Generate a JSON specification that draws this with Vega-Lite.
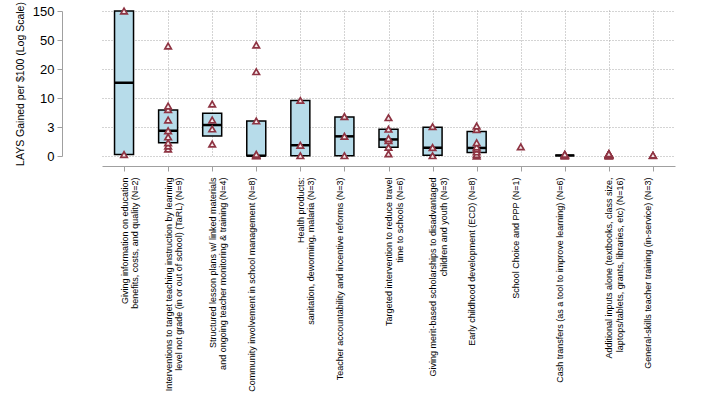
{
  "$schema": "https://vega.github.io/schema/vega-lite/v6.json",
  "width": 654,
  "height": 166,
  "autosize": {"type": "none"},
  "padding": {"left": 62, "top": 0, "right": 0, "bottom": 234},
  "background": "white",
  "config": {
    "view": {"stroke": null},
    "font": "Liberation Sans",
    "axis": {"domainColor": "#a0a0a0", "tickColor": "#a0a0a0", "gridColor": "#a8a8a8", "gridDash": [1, 2], "gridWidth": 1, "gridOpacity": 1, "labelColor": "black", "titleColor": "black"}
  },
  "datasets": {
    "boxes": [
      {"group": "Giving information on education|benefits, costs, and quality (N=2)", "q1": 1.05, "median": 12.5, "q3": 148.4},
      {"group": "Interventions to target teaching instruction by learning|level not grade (in or out of school) (TaRL) (N=9)", "q1": 1.58, "median": 2.39, "q3": 4.88},
      {"group": "Structured lesson plans w/ linked materials|and ongoing teacher monitoring & training (N=4)", "q1": 1.99, "median": 2.91, "q3": 4.36},
      {"group": "Community involvement in school management (N=8)", "q1": 1.01, "median": 1.01, "q3": 3.34},
      {"group": "Health products:|sanitation, deworming, malaria (N=3)", "q1": 1.01, "median": 1.45, "q3": 6.75},
      {"group": "Teacher accountability and incentive reforms (N=3)", "q1": 1.01, "median": 1.97, "q3": 3.85},
      {"group": "Targeted intervention to reduce travel|time to schools (N=6)", "q1": 1.35, "median": 1.77, "q3": 2.52},
      {"group": "Giving merit-based scholarships to disadvantaged|children and youth (N=3)", "q1": 1.03, "median": 1.33, "q3": 2.7},
      {"group": "Early childhood development (ECD) (N=8)", "q1": 1.13, "median": 1.32, "q3": 2.33},
      {"group": "Cash transfers (as a tool to improve learning) (N=6)", "q1": 1.02, "median": 1.02, "q3": 1.02}
    ],
    "points": [
      {"group": "Giving information on education|benefits, costs, and quality (N=2)", "lays": 148.4},
      {"group": "Giving information on education|benefits, costs, and quality (N=2)", "lays": 1.05},
      {"group": "Interventions to target teaching instruction by learning|level not grade (in or out of school) (TaRL) (N=9)", "lays": 1.27},
      {"group": "Interventions to target teaching instruction by learning|level not grade (in or out of school) (TaRL) (N=9)", "lays": 1.41},
      {"group": "Interventions to target teaching instruction by learning|level not grade (in or out of school) (TaRL) (N=9)", "lays": 1.58},
      {"group": "Interventions to target teaching instruction by learning|level not grade (in or out of school) (TaRL) (N=9)", "lays": 1.93},
      {"group": "Interventions to target teaching instruction by learning|level not grade (in or out of school) (TaRL) (N=9)", "lays": 2.39},
      {"group": "Interventions to target teaching instruction by learning|level not grade (in or out of school) (TaRL) (N=9)", "lays": 3.46},
      {"group": "Interventions to target teaching instruction by learning|level not grade (in or out of school) (TaRL) (N=9)", "lays": 4.97},
      {"group": "Interventions to target teaching instruction by learning|level not grade (in or out of school) (TaRL) (N=9)", "lays": 5.61},
      {"group": "Interventions to target teaching instruction by learning|level not grade (in or out of school) (TaRL) (N=9)", "lays": 44.4},
      {"group": "Structured lesson plans w/ linked materials|and ongoing teacher monitoring & training (N=4)", "lays": 1.51},
      {"group": "Structured lesson plans w/ linked materials|and ongoing teacher monitoring & training (N=4)", "lays": 2.54},
      {"group": "Structured lesson plans w/ linked materials|and ongoing teacher monitoring & training (N=4)", "lays": 3.46},
      {"group": "Structured lesson plans w/ linked materials|and ongoing teacher monitoring & training (N=4)", "lays": 6.01},
      {"group": "Community involvement in school management (N=8)", "lays": 1.01},
      {"group": "Community involvement in school management (N=8)", "lays": 1.01},
      {"group": "Community involvement in school management (N=8)", "lays": 1.01},
      {"group": "Community involvement in school management (N=8)", "lays": 1.02},
      {"group": "Community involvement in school management (N=8)", "lays": 1.06},
      {"group": "Community involvement in school management (N=8)", "lays": 3.35},
      {"group": "Community involvement in school management (N=8)", "lays": 18.3},
      {"group": "Community involvement in school management (N=8)", "lays": 46.0},
      {"group": "Health products:|sanitation, deworming, malaria (N=3)", "lays": 1.01},
      {"group": "Health products:|sanitation, deworming, malaria (N=3)", "lays": 1.45},
      {"group": "Health products:|sanitation, deworming, malaria (N=3)", "lays": 6.8},
      {"group": "Teacher accountability and incentive reforms (N=3)", "lays": 1.01},
      {"group": "Teacher accountability and incentive reforms (N=3)", "lays": 1.97},
      {"group": "Teacher accountability and incentive reforms (N=3)", "lays": 3.9},
      {"group": "Targeted intervention to reduce travel|time to schools (N=6)", "lays": 1.08},
      {"group": "Targeted intervention to reduce travel|time to schools (N=6)", "lays": 1.35},
      {"group": "Targeted intervention to reduce travel|time to schools (N=6)", "lays": 1.7},
      {"group": "Targeted intervention to reduce travel|time to schools (N=6)", "lays": 1.83},
      {"group": "Targeted intervention to reduce travel|time to schools (N=6)", "lays": 2.52},
      {"group": "Targeted intervention to reduce travel|time to schools (N=6)", "lays": 3.75},
      {"group": "Giving merit-based scholarships to disadvantaged|children and youth (N=3)", "lays": 1.01},
      {"group": "Giving merit-based scholarships to disadvantaged|children and youth (N=3)", "lays": 1.34},
      {"group": "Giving merit-based scholarships to disadvantaged|children and youth (N=3)", "lays": 2.75},
      {"group": "Early childhood development (ECD) (N=8)", "lays": 1.0},
      {"group": "Early childhood development (ECD) (N=8)", "lays": 1.05},
      {"group": "Early childhood development (ECD) (N=8)", "lays": 1.15},
      {"group": "Early childhood development (ECD) (N=8)", "lays": 1.27},
      {"group": "Early childhood development (ECD) (N=8)", "lays": 1.36},
      {"group": "Early childhood development (ECD) (N=8)", "lays": 1.58},
      {"group": "Early childhood development (ECD) (N=8)", "lays": 2.49},
      {"group": "Early childhood development (ECD) (N=8)", "lays": 2.81},
      {"group": "School Choice and PPP (N=1)", "lays": 1.37},
      {"group": "Cash transfers (as a tool to improve learning) (N=6)", "lays": 1.0},
      {"group": "Cash transfers (as a tool to improve learning) (N=6)", "lays": 1.02},
      {"group": "Cash transfers (as a tool to improve learning) (N=6)", "lays": 1.03},
      {"group": "Cash transfers (as a tool to improve learning) (N=6)", "lays": 1.04},
      {"group": "Cash transfers (as a tool to improve learning) (N=6)", "lays": 1.05},
      {"group": "Cash transfers (as a tool to improve learning) (N=6)", "lays": 1.06},
      {"group": "Additional inputs alone (textbooks, class size,|laptops/tablets, grants, libraries, etc)  (N=16)", "lays": 1.0},
      {"group": "Additional inputs alone (textbooks, class size,|laptops/tablets, grants, libraries, etc)  (N=16)", "lays": 1.01},
      {"group": "Additional inputs alone (textbooks, class size,|laptops/tablets, grants, libraries, etc)  (N=16)", "lays": 1.02},
      {"group": "Additional inputs alone (textbooks, class size,|laptops/tablets, grants, libraries, etc)  (N=16)", "lays": 1.02},
      {"group": "Additional inputs alone (textbooks, class size,|laptops/tablets, grants, libraries, etc)  (N=16)", "lays": 1.03},
      {"group": "Additional inputs alone (textbooks, class size,|laptops/tablets, grants, libraries, etc)  (N=16)", "lays": 1.03},
      {"group": "Additional inputs alone (textbooks, class size,|laptops/tablets, grants, libraries, etc)  (N=16)", "lays": 1.04},
      {"group": "Additional inputs alone (textbooks, class size,|laptops/tablets, grants, libraries, etc)  (N=16)", "lays": 1.04},
      {"group": "Additional inputs alone (textbooks, class size,|laptops/tablets, grants, libraries, etc)  (N=16)", "lays": 1.05},
      {"group": "Additional inputs alone (textbooks, class size,|laptops/tablets, grants, libraries, etc)  (N=16)", "lays": 1.05},
      {"group": "Additional inputs alone (textbooks, class size,|laptops/tablets, grants, libraries, etc)  (N=16)", "lays": 1.06},
      {"group": "Additional inputs alone (textbooks, class size,|laptops/tablets, grants, libraries, etc)  (N=16)", "lays": 1.06},
      {"group": "Additional inputs alone (textbooks, class size,|laptops/tablets, grants, libraries, etc)  (N=16)", "lays": 1.07},
      {"group": "Additional inputs alone (textbooks, class size,|laptops/tablets, grants, libraries, etc)  (N=16)", "lays": 1.07},
      {"group": "Additional inputs alone (textbooks, class size,|laptops/tablets, grants, libraries, etc)  (N=16)", "lays": 1.08},
      {"group": "Additional inputs alone (textbooks, class size,|laptops/tablets, grants, libraries, etc)  (N=16)", "lays": 1.08},
      {"group": "General-skills teacher training (in-service) (N=3)", "lays": 1.01},
      {"group": "General-skills teacher training (in-service) (N=3)", "lays": 1.02},
      {"group": "General-skills teacher training (in-service) (N=3)", "lays": 1.03}
    ]
  },
  "encoding": {
    "x": {
      "field": "group",
      "type": "nominal",
      "scale": {
        "type": "point",
        "range": [40, 613],
        "domain": [
          "Giving information on education|benefits, costs, and quality (N=2)",
          "Interventions to target teaching instruction by learning|level not grade (in or out of school) (TaRL) (N=9)",
          "Structured lesson plans w/ linked materials|and ongoing teacher monitoring & training (N=4)",
          "Community involvement in school management (N=8)",
          "Health products:|sanitation, deworming, malaria (N=3)",
          "Teacher accountability and incentive reforms (N=3)",
          "Targeted intervention to reduce travel|time to schools (N=6)",
          "Giving merit-based scholarships to disadvantaged|children and youth (N=3)",
          "Early childhood development (ECD) (N=8)",
          "School Choice and PPP (N=1)",
          "Cash transfers (as a tool to improve learning) (N=6)",
          "Additional inputs alone (textbooks, class size,|laptops/tablets, grants, libraries, etc)  (N=16)",
          "General-skills teacher training (in-service) (N=3)"
        ]
      },
      "axis": {
        "title": null,
        "grid": true,
        "tickSize": 5,
        "labelAngle": 270,
        "labelFontSize": 9,
        "labelLineHeight": 10.5,
        "labelPadding": 6,
        "labelLimit": 400,
        "labelOverlap": false,
        "labelBound": false,
        "labelOffset": {"condition": {"test": "indexof(datum.value, '|') < 0", "value": -5}, "value": 0},
        "labelExpr": "split(datum.label, '|')"
      }
    }
  },
  "layer": [
    {
      "data": {"name": "boxes"},
      "mark": {"type": "bar", "size": 19, "fill": "#b7dcea", "stroke": "black", "strokeWidth": 1.5},
      "encoding": {
        "y": {
          "field": "q1",
          "type": "quantitative",
          "scale": {"type": "log", "base": 2.718281828459045, "domain": [1, 148.4131591], "range": [156, 11], "nice": false, "clamp": false},
          "axis": {
            "title": "LAYS Gained per $100 (Log Scale)",
            "titleFontSize": 10.5,
            "titleFontWeight": "normal",
            "titlePadding": 7,
            "values": [1, 2.718281828, 7.389056099, 20.08553692, 54.59815003, 148.4131591],
            "labelExpr": "datum.value < 2 ? '0' : datum.value < 5 ? '3' : datum.value < 10 ? '10' : datum.value < 30 ? '20' : datum.value < 100 ? '50' : '150'",
            "labelFontSize": 13,
            "labelPadding": 3,
            "tickSize": 5,
            "grid": true
          }
        },
        "y2": {"field": "q3"}
      }
    },
    {
      "data": {"name": "boxes"},
      "mark": {"type": "tick", "size": 19, "thickness": 2.5, "color": "black", "opacity": 1},
      "encoding": {
        "y": {"field": "median", "type": "quantitative"}
      }
    },
    {
      "data": {"name": "points"},
      "mark": {"type": "point", "shape": "triangle-up", "filled": true, "size": 42, "fill": "#f4e8ea", "stroke": "#8e3443", "strokeWidth": 1.7, "opacity": 1},
      "encoding": {
        "y": {"field": "lays", "type": "quantitative"}
      }
    }
  ]
}
